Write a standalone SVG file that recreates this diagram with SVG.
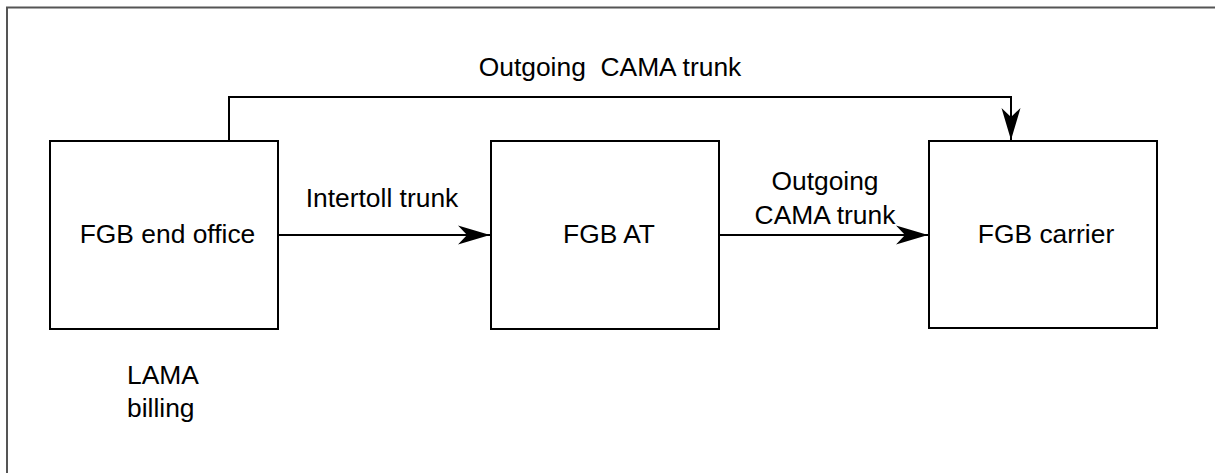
<svg xmlns="http://www.w3.org/2000/svg" width="1215" height="473" viewBox="0 0 1215 473">
<style>
.box{fill:#fff;stroke:#000;stroke-width:2}
.conn{fill:none;stroke:#000;stroke-width:2}
text{font-family:"Liberation Sans",Arial,sans-serif;font-size:26.4px;fill:#000}
.frame{fill:none;stroke:#555;stroke-width:2}
</style>
<defs>
<marker id="arr" markerUnits="userSpaceOnUse" markerWidth="34" markerHeight="22" viewBox="-33 -11 34 22" refX="0" refY="0" orient="auto">
<path d="M0,0 L-32,-9.5 L-23,0 L-32,9.5 Z" fill="#000"/>
</marker>
</defs>
<path class="frame" d="M7,473 V7.5 H1215"/>
<g id="end-office">
<rect class="box" x="50" y="141" width="228" height="188"/>
<text x="167.5" y="243" text-anchor="middle">FGB end office</text>
</g>
<g id="at">
<rect class="box" x="491" y="141" width="228" height="188"/>
<text x="609" y="243" text-anchor="middle">FGB AT</text>
</g>
<g id="carrier">
<rect class="box" x="929" y="141" width="228" height="187"/>
<text x="1046" y="243" text-anchor="middle">FGB carrier</text>
</g>
<g id="lama">
<text x="127" y="384">LAMA</text>
<text x="127" y="417">billing</text>
</g>
<g id="connectors">
<path class="conn" d="M229,141 V97 H1011 V140" marker-end="url(#arr)"/>
<path class="conn" d="M278,235 H490" marker-end="url(#arr)"/>
<path class="conn" d="M719,235 H928" marker-end="url(#arr)"/>
<text x="610" y="76" text-anchor="middle" xml:space="preserve">Outgoing  CAMA trunk</text>
<text x="382" y="207" text-anchor="middle">Intertoll trunk</text>
<text x="825" y="190" text-anchor="middle">Outgoing</text>
<text x="825" y="224" text-anchor="middle">CAMA trunk</text>
</g>
</svg>
